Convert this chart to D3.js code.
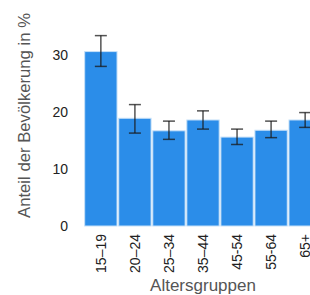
<!DOCTYPE html>
<html lang="de">
<head>
<meta charset="UTF-8">
<style>
    body { margin: 0; padding: 0; background: #fff; overflow: hidden; }
    svg { display: block; font-family: "Liberation Sans", Arial, sans-serif; }
</style>
</head>
<body>
<div id="chart"></div>
<script src="https://d3js.org/d3.v7.min.js"></script>
<script>
    const groups = ['15–19', '20–24', '25–34', '35–44', '45-54', '55-64', '65+'];
    const shares = [30.6, 18.9, 16.7, 18.6, 15.6, 16.8, 18.6];
    const errLow = [28.0, 16.3, 15.2, 17.0, 14.3, 15.5, 17.3];
    const errHigh = [33.4, 21.3, 18.4, 20.2, 17.0, 18.4, 19.9];
    const yTicks = [0, 10, 20, 30];

    const data = groups.map((g, i) => ({ group: g, value: shares[i], lo: errLow[i], hi: errHigh[i] }));

    const width = 330, height = 295;
    const svg = d3.select('#chart').append('svg')
        .attr('width', width)
        .attr('height', height);

    const x = d3.scaleBand()
        .domain(groups)
        .range([84, 322])
        .paddingInner(0.05)
        .paddingOuter(0.02);

    const y = d3.scaleLinear()
        .domain([0, 30])
        .range([226, 55]);

    // y axis (labels only)
    const yAxis = svg.append('g')
        .attr('transform', 'translate(72,0)')
        .call(d3.axisLeft(y).tickValues(yTicks).tickSize(0).tickPadding(4));
    yAxis.select('.domain').remove();
    yAxis.selectAll('text')
        .style('font-size', '14px')
        .style('fill', '#222')
        .style('font-family', '"Liberation Sans", Arial, sans-serif');

    // bars
    svg.selectAll('rect.bar')
        .data(data)
        .enter().append('rect')
        .attr('class', 'bar')
        .attr('x', d => x(d.group))
        .attr('y', d => y(d.value))
        .attr('width', x.bandwidth())
        .attr('height', d => y(0) - y(d.value))
        .attr('fill', '#2b8de9')
        .attr('stroke', '#c6e0f8')
        .attr('stroke-width', 1);

    // error bars
    const err = svg.selectAll('g.err')
        .data(data)
        .enter().append('g')
        .attr('class', 'err')
        .attr('stroke', '#1a1a1a')
        .attr('stroke-opacity', 0.75)
        .attr('stroke-width', 1.5);
    const cx = d => x(d.group) + x.bandwidth() / 2;
    err.append('line')
        .attr('x1', cx).attr('x2', cx)
        .attr('y1', d => y(d.lo)).attr('y2', d => y(d.hi));
    err.append('line')
        .attr('x1', d => cx(d) - 6).attr('x2', d => cx(d) + 6)
        .attr('y1', d => y(d.hi)).attr('y2', d => y(d.hi));
    err.append('line')
        .attr('x1', d => cx(d) - 6).attr('x2', d => cx(d) + 6)
        .attr('y1', d => y(d.lo)).attr('y2', d => y(d.lo));

    // x axis (rotated labels)
    const xAxis = svg.append('g')
        .attr('transform', 'translate(0,228)')
        .call(d3.axisBottom(x).tickSize(0).tickPadding(0));
    xAxis.select('.domain').remove();
    xAxis.selectAll('text')
        .attr('transform', 'rotate(-90)')
        .attr('x', -6)
        .attr('y', 0)
        .attr('dy', '0.35em')
        .style('text-anchor', 'end')
        .style('font-size', '14px')
        .style('fill', '#222')
        .style('font-family', '"Liberation Sans", Arial, sans-serif');

    // axis titles
    svg.append('text')
        .attr('transform', 'translate(30,115.5) rotate(-90)')
        .attr('text-anchor', 'middle')
        .style('font-size', '16.7px')
        .style('fill', '#555')
        .text('Anteil der Bevölkerung in %');

    svg.append('text')
        .attr('x', 203)
        .attr('y', 291)
        .attr('text-anchor', 'middle')
        .style('font-size', '17px')
        .style('fill', '#555')
        .text('Altersgruppen');
</script>
</body>
</html>
